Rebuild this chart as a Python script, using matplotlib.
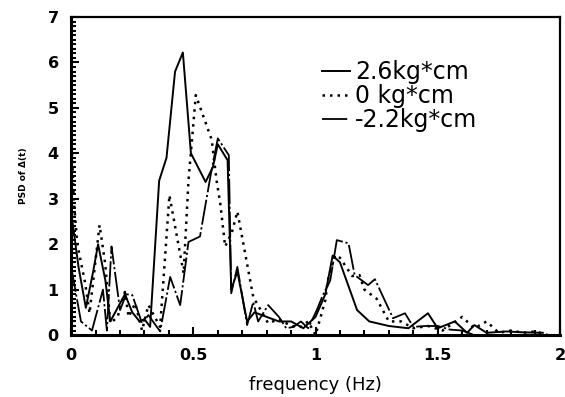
import matplotlib.pyplot as plt
from matplotlib.ticker import MultipleLocator

# 2.6 kg*cm (solid)
f_pos = [0.0, 0.03, 0.06, 0.09, 0.11, 0.14, 0.16, 0.19, 0.22, 0.25, 0.28, 0.3, 0.323,
         0.36, 0.39, 0.425, 0.457, 0.49, 0.55, 0.58, 0.6, 0.64, 0.655, 0.68, 0.72,
         0.75, 0.8, 0.85, 0.9, 0.95, 1.0, 1.04, 1.07, 1.1, 1.14, 1.17, 1.22, 1.3,
         1.38, 1.46, 1.5, 1.57, 1.62, 1.65, 1.7, 1.78, 1.85, 1.93]
psd_pos = [2.7, 1.5, 0.6, 1.4, 2.0, 1.2, 0.3, 0.6, 0.9, 0.5, 0.3, 0.35, 0.18,
           3.4, 3.9, 5.8, 6.22, 4.0, 3.37, 3.7, 4.2, 3.85, 1.0, 1.4, 0.3,
           0.5, 0.4, 0.3, 0.3, 0.15, 0.4, 0.9, 1.75, 1.6, 1.0, 0.55, 0.3, 0.2,
           0.15, 0.48, 0.15, 0.3, 0.05, 0.22, 0.05, 0.08, 0.06, 0.05]

# 0 kg*cm (dotted)
f_zero = [0.0, 0.01, 0.025, 0.057, 0.075, 0.116, 0.139, 0.16, 0.19, 0.22, 0.235, 0.262,
          0.29, 0.316, 0.364, 0.402, 0.46, 0.48, 0.51, 0.575, 0.595, 0.61, 0.63, 0.657,
          0.68, 0.745, 0.806, 0.85, 0.9, 0.94, 0.97, 1.0, 1.04, 1.05, 1.08, 1.1, 1.15,
          1.18, 1.2, 1.25, 1.3, 1.35, 1.4, 1.46, 1.52, 1.6, 1.65, 1.7, 1.75, 1.8, 1.85,
          1.9, 1.95]
psd_zero = [4.5, 3.0, 2.0, 1.15, 0.48, 2.42, 1.58, 0.26, 0.4, 0.95, 0.4, 0.7,
            0.1, 0.66, 0.18, 3.08, 1.36, 3.4, 5.28, 4.3, 3.4, 2.9, 1.95, 2.25,
            2.72, 0.84, 0.26, 0.35, 0.2, 0.18, 0.3, 0.0, 0.77, 1.2, 1.76, 1.7, 1.3,
            1.32, 1.0, 0.8, 0.3, 0.3, 0.15, 0.2, 0.1, 0.4, 0.15, 0.3, 0.05, 0.1, 0.05,
            0.08, 0.0]

# -2.2 kg*cm (dash-dot)
f_neg = [0.0, 0.04, 0.085, 0.13, 0.146, 0.165, 0.2, 0.225, 0.25, 0.29, 0.316, 0.364,
         0.405, 0.446, 0.48, 0.527, 0.57, 0.6, 0.645, 0.655, 0.68, 0.72, 0.745, 0.765,
         0.806, 0.85, 0.88, 0.91, 0.94, 0.97, 1.005, 1.03, 1.06, 1.087, 1.135, 1.16,
         1.215, 1.243, 1.317, 1.366, 1.4, 1.45, 1.5, 1.55, 1.6, 1.65]
psd_neg = [1.5, 0.3, 0.1, 1.0, 0.1, 1.95, 0.55, 0.9, 0.88, 0.26, 0.44, 0.08,
           1.28, 0.66, 2.05, 2.17, 3.5, 4.33, 3.96, 0.92, 1.5, 0.22, 0.73, 0.3,
           0.66, 0.4, 0.15, 0.18, 0.3, 0.15, 0.55, 0.88, 1.2, 2.09, 2.02, 1.32,
           1.1, 1.23, 0.37, 0.48, 0.18, 0.2, 0.2, 0.12, 0.1, 0.0]

labels = ["2.6kg*cm", "0 kg*cm", "-2.2kg*cm"]

fig = plt.figure(figsize=(5.65, 3.97), dpi=100)
ax = fig.add_axes([0.126, 0.156, 0.865, 0.801])

ax.plot(f_pos, psd_pos, color="black", lw=1.4, ls="-", label=labels[0])
ax.plot(f_zero, psd_zero, color="black", lw=1.8, ls=(0, (1, 2)), label=labels[1])
ax.plot(f_neg, psd_neg, color="black", lw=1.3, ls=(0, (14, 1.5, 1.2, 1.5)), label=labels[2])

ax.set_xlim(0, 2)
ax.set_ylim(0, 7)
ax.xaxis.set_major_locator(MultipleLocator(0.5))
ax.xaxis.set_minor_locator(MultipleLocator(0.1))
ax.yaxis.set_major_locator(MultipleLocator(1))
ax.yaxis.set_minor_locator(MultipleLocator(0.1))
ax.set_xticks([0, 0.5, 1, 1.5, 2], ["0", "0.5", "1", "1.5", "2"])

ax.tick_params(which="both", direction="in", top=False, right=False, width=1.5)
ax.tick_params(which="major", length=6, labelsize=11.5, pad=9)
ax.tick_params(which="minor", length=3.5)
for lab in ax.get_xticklabels() + ax.get_yticklabels():
    lab.set_fontweight("bold")
    lab.set_fontfamily("DejaVu Sans")

ax.spines["left"].set_linewidth(2.2)
ax.spines["bottom"].set_linewidth(2.2)
ax.spines["top"].set_linewidth(1.6)
ax.spines["right"].set_linewidth(1.6)

ax.set_xlabel("frequency (Hz)", fontsize=13, family="DejaVu Sans", labelpad=10)
ax.set_ylabel("PSD of \u0394(t)", fontsize=6.5, family="DejaVu Sans",
              fontweight="bold", labelpad=14)

ax.legend(loc="upper left", bbox_to_anchor=(322 / 565, 337 / 397),
          bbox_transform=fig.transFigure, frameon=False,
          prop={"family": "DejaVu Sans", "size": 17},
          handlelength=1.2, handletextpad=0.2, labelspacing=0.0,
          borderpad=0.0, borderaxespad=0.0)

fig.savefig("out.png", dpi=100)
